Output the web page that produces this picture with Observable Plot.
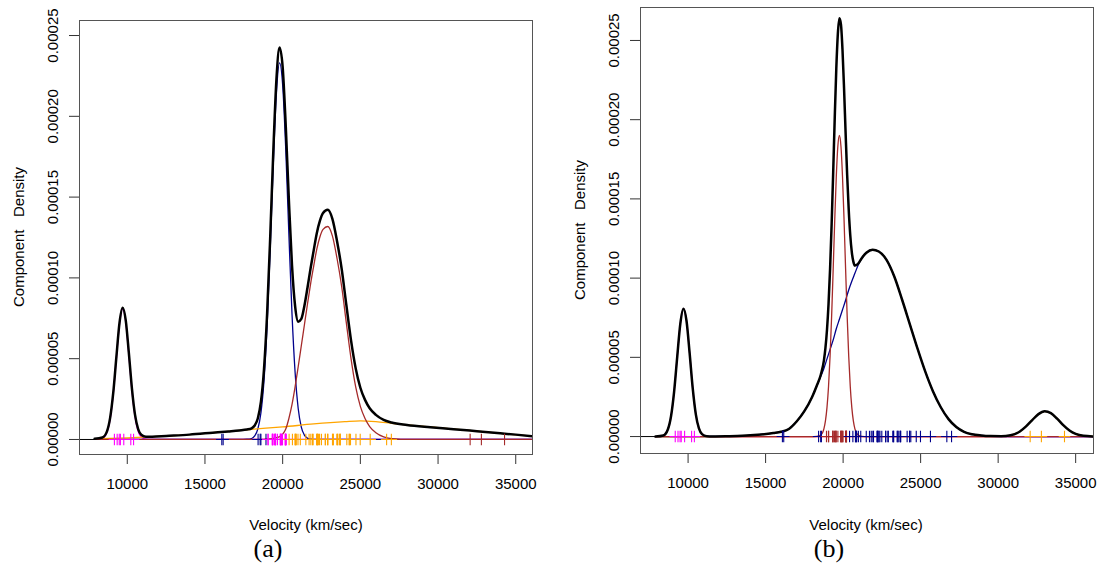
<!DOCTYPE html>
<html>
<head>
<meta charset="utf-8">
<script src="https://cdn.jsdelivr.net/npm/d3@7"></script>
<script src="https://cdn.jsdelivr.net/npm/@observablehq/plot@0.6"></script>
<style>
  html, body { margin: 0; padding: 0; background: #fff; }
  #wrap { position: relative; width: 1104px; height: 566px; overflow: hidden; font-family: "Liberation Sans", Arial, sans-serif; }
  .panel { position: absolute; top: 0; }
  .ytitle { position: absolute; font-size: 15px; white-space: pre; transform: translate(-50%, -50%) rotate(-90deg); color: #000; }
  .xtitle { position: absolute; font-size: 15px; white-space: pre; transform: translate(-50%, -50%); color: #000; }
  .cap { position: absolute; font-family: "Liberation Serif", "DejaVu Serif", serif; font-size: 26px; transform: translate(-50%, -50%); color: #000; }
</style>
</head>
<body>
<div id="wrap"></div>
<script>
// ---------- axis ticks ----------
const xTicks = [10000, 15000, 20000, 25000, 30000, 35000];
const yTicks = [0, 0.00005, 0.0001, 0.00015, 0.0002, 0.00025];

// ---------- observations (velocity, km/sec) ----------
const velocities = [9172, 9350, 9483, 9558, 9775, 10227, 10406, 16084, 16170, 18419, 18552, 18600, 18927,
  19052, 19070, 19330, 19343, 19349, 19440, 19473, 19529, 19541, 19547, 19663, 19846, 19856, 19863, 19914,
  19918, 19973, 19989, 20166, 20175, 20179, 20196, 20215, 20221, 20415, 20629, 20795, 20821, 20846, 20875,
  20986, 21137, 21492, 21701, 21814, 21921, 21960, 22185, 22209, 22242, 22249, 22314, 22374, 22495, 22746,
  22747, 22888, 22914, 23206, 23241, 23263, 23484, 23538, 23542, 23666, 23706, 23711, 24129, 24285, 24289,
  24366, 24717, 24990, 25633, 26690, 26995, 32065, 32789, 34279];
// classification codes per observation (m magenta, b blue, o orange, r brown)
const classA = ["mmmmmmm", "bbbbbb", "mmmmmmmmmmmmmmmmmmmmmmmm",
  "oooooooooo", "oooooooooo", "oooooooooo", "oooooooooo", "oo", "rrr"].join("");
const classB = ["mmmmmmm", "bbbbb", "rrrrrrrrrr", "rrrrrrrrrr", "rrrrr",
  "bbbbbbbbbb", "bbbbbbbbbb", "bbbbbbbbbb", "bbbbbbbbbb", "bb", "ooo"].join("");

// ---------- panel (a) component densities [velocity, density] ----------
const magentaA = [[7900,0],[8400,6.5e-7],[8700,4.6e-6],[8900,1.28e-5],[9100,2.84e-5],[9300,5.03e-5],[9500,7.13e-5],
  [9700,8.07e-5],[9900,7.29e-5],[10100,5.26e-5],[10300,3.04e-5],[10500,1.40e-5],[10700,5.1e-6],[10900,1.5e-6],
  [11200,1.6e-7],[11600,0],[36100,0]];
const blueA = [[7900,0],[17200,0],[17700,1.5e-7],[18000,6e-7],[18200,2.2e-6],[18400,6.4e-6],[18600,1.64e-5],
  [18800,3.66e-5],[19000,7.06e-5],[19200,1.18e-4],[19400,1.709e-4],[19600,2.145e-4],[19800,2.331e-4],
  [20000,2.194e-4],[20200,1.793e-4],[20400,1.27e-4],[20600,7.8e-5],[20800,4.16e-5],[21000,1.92e-5],
  [21200,7.7e-6],[21400,2.7e-6],[21600,8e-7],[21800,2e-7],[22000,1e-7],[22400,0],[36100,0]];
const orangeA = [[7900,4e-7],[10000,1.0e-6],[12000,1.9e-6],[14000,3.0e-6],[16000,4.6e-6],[18000,6.3e-6],
  [20000,7.8e-6],[22000,9.6e-6],[24000,1.1e-5],[25000,1.15e-5],[26000,1.1e-5],[27000,1.0e-5],[28500,8.6e-6],
  [30000,7.3e-6],[32000,5.6e-6],[34000,3.8e-6],[36100,2.0e-6]];
const brownA = [[7900,0],[18600,0],[18800,1e-7],[19000,2e-7],[19200,3.5e-7],[19400,6e-7],[19600,1.1e-6],
  [19800,1.8e-6],[20000,3.3e-6],[20200,6.5e-6],[20400,1.3e-5],[20600,2.15e-5],[20800,3.25e-5],[21000,4.5e-5],
  [21200,5.8e-5],[21400,7.1e-5],[21600,8.4e-5],[21800,9.65e-5],[22000,1.075e-4],[22200,1.18e-4],[22400,1.255e-4],
  [22600,1.30e-4],[22900,1.318e-4],[23200,1.26e-4],[23500,1.12e-4],[23800,9.45e-5],[24100,7.2e-5],[24400,5.0e-5],
  [24700,3.25e-5],[25000,2.05e-5],[25300,1.3e-5],[25600,8.0e-6],[26000,4.2e-6],[26500,1.6e-6],[27000,5e-7],
  [27600,1e-7],[28200,0],[36100,0]];
const totalA = [[7900,4e-7],[8400,1.2e-6],[8700,5.2e-6],[8900,1.35e-5],[9100,2.91e-5],[9300,5.11e-5],[9500,7.22e-5],
  [9700,8.16e-5],[9900,7.39e-5],[10100,5.37e-5],[10300,3.15e-5],[10500,1.52e-5],[10700,6.4e-6],[10900,2.9e-6],
  [11200,1.7e-6],[11600,1.72e-6],[12500,2.2e-6],[14000,3.0e-6],[15500,4.2e-6],[16500,5.0e-6],[17200,5.6e-6],
  [17700,6.15e-6],[18000,6.9e-6],[18200,8.65e-6],[18400,1.3e-5],[18600,2.32e-5],[18800,4.36e-5],[19000,7.79e-5],
  [19200,1.256e-4],[19400,1.789e-4],[19600,2.231e-4],[19800,2.426e-4],[20000,2.305e-4],[20200,1.938e-4],
  [20400,1.482e-4],[20600,1.079e-4],[20800,8.26e-5],[21000,7.29e-5],[21200,7.46e-5],[21400,8.28e-5],
  [21600,9.41e-5],[21800,1.061e-4],[22000,1.172e-4],[22200,1.278e-4],[22400,1.354e-4],[22600,1.401e-4],
  [22900,1.421e-4],[23200,1.365e-4],[23500,1.227e-4],[23800,1.054e-4],[24100,8.31e-5],[24400,6.13e-5],
  [24700,4.4e-5],[25000,3.2e-5],[25300,2.45e-5],[25600,1.93e-5],[26000,1.52e-5],[26500,1.21e-5],[27000,1.05e-5],
  [28000,9.0e-6],[29500,7.6e-6],[31000,6.4e-6],[32500,5.1e-6],[34000,3.8e-6],[35000,3.0e-6],[36100,2.0e-6]];

// ---------- panel (b) component densities [velocity, density] ----------
const magentaB = [[7900,0],[8400,6.5e-7],[8700,4.6e-6],[8900,1.28e-5],[9100,2.84e-5],[9300,5.03e-5],[9500,7.13e-5],
  [9700,8.07e-5],[9900,7.29e-5],[10100,5.26e-5],[10300,3.04e-5],[10500,1.40e-5],[10700,5.1e-6],[10900,1.5e-6],
  [11200,1.6e-7],[11600,0],[36100,0]];
const brownB = [[7900,0],[18100,0],[18300,1e-7],[18560,1.0e-6],[18760,4.9e-6],[18860,9.9e-6],[18960,1.84e-5],
  [19060,3.17e-5],[19160,5.1e-5],[19260,7.62e-5],[19360,1.059e-4],[19460,1.368e-4],[19560,1.641e-4],
  [19660,1.832e-4],[19760,1.90e-4],[19860,1.832e-4],[19960,1.641e-4],[20060,1.368e-4],[20160,1.059e-4],
  [20260,7.62e-5],[20360,5.1e-5],[20460,3.17e-5],[20560,1.84e-5],[20660,9.9e-6],[20760,4.9e-6],[20960,1.0e-6],
  [21200,1e-7],[21400,0],[36100,0]];
const blueB = [[7900,0],[10900,0],[11200,5e-8],[11600,8e-8],[12500,2e-7],[13500,4.5e-7],[14500,1.1e-6],
  [15500,2.2e-6],[16000,3.0e-6],[16500,4.8e-6],[17000,9.5e-6],[17500,1.6e-5],[18000,2.5e-5],[18300,3.2e-5],
  [18560,3.8e-5],[18760,4.3e-5],[18960,4.9e-5],[19160,5.5e-5],[19360,6.1e-5],[19560,6.8e-5],[19760,7.4e-5],
  [19960,8.0e-5],[20160,8.6e-5],[20360,9.25e-5],[20560,9.8e-5],[20760,1.03e-4],[20960,1.08e-4],[21200,1.125e-4],
  [21500,1.16e-4],[21900,1.179e-4],[22300,1.168e-4],[22800,1.115e-4],[23300,1.01e-4],[23800,8.65e-5],
  [24300,7.1e-5],[24800,5.55e-5],[25300,4.1e-5],[25800,2.85e-5],[26300,1.85e-5],[26800,1.1e-5],[27300,6.0e-6],
  [27800,3.0e-6],[28300,1.5e-6],[28900,7e-7],[29500,3e-7],[30200,1e-7],[30800,0],[36100,0]];
const orangeB = [[7900,0],[29500,0],[30200,1e-7],[30800,8.1e-7],[31400,3.2e-6],[31800,6.4e-6],[32200,1.04e-5],
  [32600,1.415e-5],[33000,1.59e-5],[33400,1.475e-5],[33800,1.134e-5],[34200,7.2e-6],[34600,3.8e-6],
  [35000,1.66e-6],[35500,4.5e-7],[36100,6e-8]];
const totalB = [[7900,0],[8400,6.5e-7],[8700,4.6e-6],[8900,1.28e-5],[9100,2.84e-5],[9300,5.03e-5],[9500,7.13e-5],
  [9700,8.07e-5],[9900,7.29e-5],[10100,5.26e-5],[10300,3.04e-5],[10500,1.40e-5],[10700,5.1e-6],[10900,1.5e-6],
  [11200,2.1e-7],[11600,8e-8],[12500,2e-7],[13500,4.5e-7],[14500,1.1e-6],[15500,2.2e-6],[16000,3.0e-6],
  [16500,4.8e-6],[17000,9.5e-6],[17500,1.6e-5],[18000,2.5e-5],[18300,3.21e-5],[18560,3.9e-5],[18760,4.79e-5],
  [18860,5.59e-5],[18960,6.74e-5],[19060,8.37e-5],[19160,1.06e-4],[19260,1.342e-4],[19360,1.669e-4],
  [19460,2.013e-4],[19560,2.321e-4],[19660,2.542e-4],[19760,2.64e-4],[19860,2.602e-4],[19960,2.441e-4],
  [20060,2.198e-4],[20160,1.919e-4],[20260,1.652e-4],[20360,1.435e-4],[20460,1.272e-4],[20560,1.164e-4],
  [20660,1.104e-4],[20760,1.079e-4],[20960,1.09e-4],[21200,1.126e-4],[21500,1.16e-4],[21900,1.179e-4],
  [22300,1.168e-4],[22800,1.115e-4],[23300,1.01e-4],[23800,8.65e-5],[24300,7.1e-5],[24800,5.55e-5],
  [25300,4.1e-5],[25800,2.85e-5],[26300,1.85e-5],[26800,1.1e-5],[27300,6.0e-6],[27800,3.0e-6],[28300,1.5e-6],
  [28900,7e-7],[29500,3e-7],[30200,2e-7],[30800,8.1e-7],[31400,3.2e-6],[31800,6.4e-6],[32200,1.04e-5],
  [32600,1.415e-5],[33000,1.59e-5],[33400,1.475e-5],[33800,1.134e-5],[34200,7.2e-6],[34600,3.8e-6],
  [35000,1.66e-6],[35500,4.5e-7],[36100,6e-8]];

// ---------- styling ----------
const palette = { m: "#FF00FF", b: "#00008B", o: "#FFA500", r: "#A52A2A" };

function panel(opts) {
  const rug = velocities.map((v, i) => ({ v, c: opts.classes[i] }));
  const line = (data, color, w) => Plot.line(data, {
    x: d => d[0], y: d => d[1], curve: "monotone-x", stroke: color, strokeWidth: w, clip: true
  });
  return Plot.plot({
    width: opts.width, height: 500,
    marginLeft: 79, marginRight: opts.marginRight, marginTop: opts.marginTop, marginBottom: 500 - opts.frameBottom,
    x: { domain: opts.xDomain },
    y: { domain: opts.yDomain },
    style: { fontFamily: "'Liberation Sans', Arial, sans-serif", fontSize: "15px", background: "transparent", color: "#000" },
    marks: [
      Plot.ruleY([0], { stroke: "#000", strokeWidth: 1 }),
      ...opts.curves.map(([data, color]) => line(data, color, 1.3)),
      line(opts.total, "#000", 2.5),
      Plot.dot(rug, { x: "v", y: () => 0, symbol: "plus", r: 3.8, fill: "none",
        stroke: d => palette[d.c], strokeWidth: 1.1 }),
      Plot.axisX({ ticks: xTicks, tickSize: 10, tickPadding: 14, tickFormat: d => String(d),
        label: null, stroke: "#333", fontSize: 15 }),
      Plot.axisY({ ticks: yTicks, tickSize: 10, tickFormat: () => "", label: null, stroke: "#333" }),
      Plot.text(yTicks, { y: d => d, text: d => d.toFixed(5), frameAnchor: "left", dx: -26, rotate: -90,
        textAnchor: "middle", lineAnchor: "middle", fontSize: 15, fill: "#000" }),
      Plot.frame({ stroke: "#555", strokeWidth: 1 })
    ]
  });
}

const wrap = document.getElementById("wrap");

function addPanel(left, opts, titles) {
  const div = document.createElement("div");
  div.className = "panel";
  div.style.left = left + "px";
  div.appendChild(panel(opts));
  wrap.appendChild(div);
  const yt = document.createElement("div");
  yt.className = "ytitle"; yt.textContent = "Component   Density";
  yt.style.left = titles.yx + "px"; yt.style.top = titles.yy + "px";
  wrap.appendChild(yt);
  const xt = document.createElement("div");
  xt.className = "xtitle"; xt.textContent = "Velocity (km/sec)";
  xt.style.left = titles.xx + "px"; xt.style.top = "524px";
  wrap.appendChild(xt);
  const cap = document.createElement("div");
  cap.className = "cap"; cap.textContent = titles.cap;
  cap.style.left = titles.capx + "px"; cap.style.top = "549px";
  wrap.appendChild(cap);
}

addPanel(0, {
  width: 552, marginRight: 20, marginTop: 20, frameBottom: 454,
  xDomain: [6926, 36078], yDomain: [-9.3e-6, 2.593e-4],
  classes: classA, total: totalA,
  curves: [[magentaA, palette.m], [blueA, palette.b], [orangeA, palette.o], [brownA, palette.r]]
}, { yx: 18, yy: 237, xx: 306, cap: "(a)", capx: 268 });

addPanel(561, {
  width: 543, marginRight: 11, marginTop: 7, frameBottom: 453,
  xDomain: [6931, 36150], yDomain: [-1.07e-5, 2.708e-4],
  classes: classB, total: totalB,
  curves: [[magentaB, palette.m], [blueB, palette.b], [orangeB, palette.o], [brownB, palette.r]]
}, { yx: 579, yy: 230, xx: 866, cap: "(b)", capx: 829 });
</script>
</body>
</html>
